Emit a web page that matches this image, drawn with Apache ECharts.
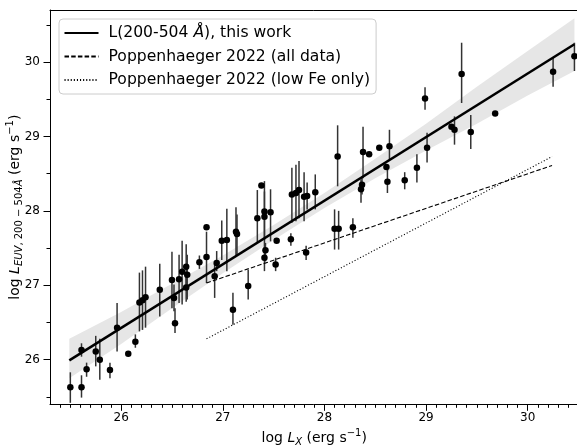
<!DOCTYPE html>
<html><head><meta charset="utf-8">
<script src="https://cdn.jsdelivr.net/npm/echarts@6/dist/echarts.min.js"></script>
<style>html,body{margin:0;padding:0;background:#fff}#c{width:577px;height:447px}</style>
</head><body><div id="c"></div>
<script>
// ---- data ----
const logLX = [25.50,25.61,25.61,25.66,25.75,25.79,25.89,25.96,26.07,26.14,26.18,26.21,26.24,26.38,26.50,26.52,26.53,26.57,26.60,26.64,26.65,26.64,26.77,26.84,26.84,26.94,26.92,26.99,27.04,27.13,27.14,27.10,27.25,27.34,27.38,27.41,27.41,27.47,27.42,27.41,27.52,27.53,27.67,27.68,27.72,27.75,27.80,27.83,27.91,27.82,28.10,28.14,28.13,28.28,28.36,28.37,28.38,28.44,28.54,28.64,28.61,28.62,28.79,28.91,28.99,29.01,29.25,29.28,29.35,29.44,29.68,30.25,30.46];
const logLEUV = [25.63,25.63,26.13,25.87,26.11,26.00,25.86,26.43,26.08,26.24,26.77,26.80,26.84,26.94,27.07,26.83,26.49,27.08,27.18,27.25,27.14,26.97,27.31,27.78,27.38,27.30,27.12,27.60,27.61,27.72,27.69,26.67,26.99,27.90,28.34,27.92,27.99,27.98,27.47,27.37,27.28,27.60,27.62,28.22,28.24,28.28,28.19,28.20,28.25,27.44,27.76,27.76,28.73,27.78,28.29,28.35,28.79,28.76,28.85,28.87,28.59,28.39,28.41,28.58,29.51,28.85,29.13,29.09,29.84,29.06,29.31,29.87,30.08];
const errLow = [25.42,25.49,26.04,25.77,25.91,25.73,25.75,26.11,null,26.16,26.38,26.40,26.43,26.58,26.69,26.65,26.36,26.76,26.74,26.94,26.81,26.78,27.22,null,27.03,27.19,26.83,27.34,27.19,27.39,27.40,26.47,26.81,27.57,null,27.48,27.61,27.59,27.32,27.19,27.19,null,27.53,27.84,27.86,27.90,27.86,28.02,28.02,27.34,27.48,27.48,28.33,27.64,28.11,28.22,28.44,null,null,28.69,null,28.24,28.29,28.38,29.36,28.65,null,28.89,29.45,28.83,null,29.67,29.88];
const errHigh = [25.83,25.79,26.22,25.96,26.32,26.28,25.96,26.76,null,26.34,27.17,27.20,27.25,27.29,27.45,27.01,26.69,27.41,27.60,27.55,27.41,27.12,27.40,null,27.72,27.46,27.30,27.87,28.03,28.05,27.95,26.90,27.21,28.28,null,28.26,28.40,28.29,27.57,27.51,27.37,null,27.70,28.58,28.62,28.67,28.52,28.38,28.49,27.53,28.02,28.00,29.15,27.90,28.42,28.46,29.13,null,null,29.09,null,28.55,28.52,28.76,29.66,29.05,null,29.27,30.26,29.29,null,30.06,30.26];

const fitX = [25.49, 30.46];
const fitY = [25.99, 30.24];
const bandX    = [25.49, 26.0, 26.5, 27.0, 27.5, 28.0, 28.5, 29.0, 29.5, 30.0, 30.46];
const bandLow  = [25.75, 26.21, 26.69, 27.16, 27.61, 28.04, 28.44, 28.81, 29.17, 29.55, 29.88];
const bandHigh = [26.28, 26.64, 27.02, 27.40, 27.81, 28.24, 28.70, 29.17, 29.67, 30.15, 30.59];

const popAllX = [26.84, 30.24];
const popAllY = [27.03, 28.61];
const popLowFeX = [26.84, 30.24];
const popLowFeY = [26.28, 28.73];

const xTicks = [26, 27, 28, 29, 30];
const yTicks = [26, 27, 28, 29, 30];
const xMinor = []; for (let i = 254; i <= 305; i++) { if (i % 10) xMinor.push(i / 10); }
const yMinor = [25.5, 26.5, 27.5, 28.5, 29.5, 30.5];

const legendNames = ['L(200-504 Å), this work', 'Poppenhaeger 2022 (all data)', 'Poppenhaeger 2022 (low Fe only)'];

// ---- chart ----
const FF = 'DejaVu Sans';
const X0 = 25.3, X1 = 30.5, Y0 = 25.4, Y1 = 30.7;
const chart = echarts.init(document.getElementById('c'), null, {renderer: 'canvas'});

const pts = logLX.map((x, i) => [x, logLEUV[i]]);
const errs = [];
logLX.forEach((x, i) => { if (errLow[i] != null) errs.push([x, errLow[i], errHigh[i]]); });

const baseAxis = (extra) => Object.assign({
  type: 'value', splitLine: {show: false}, axisLine: {show: false, onZero: false},
  axisTick: {show: false}, axisLabel: {show: false}
}, extra);

const axTitleRich = {
  n: {fontSize: 14, fontFamily: FF, color: '#000'},
  i: {fontSize: 14, fontFamily: FF, color: '#000', fontStyle: 'italic'},
  sbi: {fontSize: 10, fontFamily: FF, color: '#000', fontStyle: 'italic', padding: [8, 0, 0, 0]},
  sb: {fontSize: 10, fontFamily: FF, color: '#000', padding: [8, 0, 0, 0]},
  sp: {fontSize: 10, fontFamily: FF, color: '#000', padding: [0, 0, 10, 0]}
};

const option = {
  animation: false,
  backgroundColor: '#fff',
  grid: {left: 50, top: 10, width: 528.5, height: 394.3, containLabel: false, outerBoundsMode: 'none'},
  legend: {
    data: legendNames, orient: 'vertical', left: 59, top: 19,
    itemWidth: 34, itemHeight: 16, itemGap: 7.5,
    padding: [6, 6, 6, 4.5],
    backgroundColor: 'rgba(255,255,255,0.8)', borderColor: '#cccccc', borderWidth: 1, borderRadius: 4,
    selectedMode: false,
    itemStyle: {color: 'rgba(0,0,0,0)', borderWidth: 0, opacity: 0},
    textStyle: {fontSize: 15.6, fontFamily: FF, color: '#000', padding: [0, 0, 0, 5],
      rich: {
        n: {fontSize: 15.6, fontFamily: FF, color: '#000'},
        i: {fontSize: 15.6, fontFamily: FF, color: '#000', fontStyle: 'italic'}
      }},
    formatter: function (name) {
      if (name === legendNames[0]) return '{n|L(200-504 }{i|Å}{n|), this work}';
      return '{n|' + name + '}';
    }
  },
  xAxis: [
    baseAxis({min: X0, max: X1, position: 'bottom',
      axisLine: {show: true, onZero: false, lineStyle: {color: '#000', width: 1}},
      axisTick: {show: true, length: 6.5, customValues: xTicks, lineStyle: {color: '#000', width: 1}},
      axisLabel: {show: true, customValues: xTicks, margin: 8, fontSize: 12, fontFamily: FF, color: '#000'},
      name: '{n|log }{i|L}{sbi|X}{n| (erg s}{sp|−1}{n|)}', nameLocation: 'middle', nameGap: 24,
      nameMoveOverlap: false,
      nameTextStyle: {fontSize: 14, fontFamily: FF, color: '#000', rich: axTitleRich}
    }),
    baseAxis({min: X0, max: X1, position: 'bottom',
      axisTick: {show: true, length: 3.5, customValues: xMinor, lineStyle: {color: '#000', width: 1}}}),
    baseAxis({min: X0, max: X1, position: 'top',
      axisLine: {show: true, onZero: false, lineStyle: {color: '#000', width: 1}}})
  ],
  yAxis: [
    baseAxis({min: Y0, max: Y1, position: 'left',
      axisLine: {show: true, onZero: false, lineStyle: {color: '#000', width: 1}},
      axisTick: {show: true, length: 6.5, customValues: yTicks, lineStyle: {color: '#000', width: 1}},
      axisLabel: {show: true, customValues: yTicks, margin: 10, fontSize: 12, fontFamily: FF, color: '#000'},
      name: '{n|log }{i|L}{sbi|EUV}{sb|, 200 − 504}{sbi|Å}{n| (erg s}{sp|−1}{n|)}',
      nameLocation: 'middle', nameGap: 25, nameRotate: 90, nameMoveOverlap: false,
      nameTextStyle: {fontSize: 14, fontFamily: FF, color: '#000', rich: axTitleRich}
    }),
    baseAxis({min: Y0, max: Y1, position: 'left',
      axisTick: {show: true, length: 3.5, customValues: yMinor, lineStyle: {color: '#000', width: 1}}}),
    baseAxis({min: Y0, max: Y1, position: 'right',
      axisLine: {show: true, onZero: false, lineStyle: {color: '#000', width: 1}}})
  ],
  series: [
    {
      type: 'custom', name: 'band', xAxisIndex: 0, yAxisIndex: 0, z: 1, silent: true,
      data: [[bandX[0], bandLow[0]]],
      renderItem: function (params, api) {
        const poly = [];
        for (let i = 0; i < bandX.length; i++) poly.push(api.coord([bandX[i], bandHigh[i]]));
        for (let i = bandX.length - 1; i >= 0; i--) poly.push(api.coord([bandX[i], bandLow[i]]));
        return {type: 'polygon', shape: {points: poly}, style: {fill: '#e6e6e6', stroke: null}};
      }
    },
    {
      type: 'custom', name: 'err', xAxisIndex: 0, yAxisIndex: 0, z: 3, silent: true,
      data: errs, encode: {x: 0, y: [1, 2]},
      renderItem: function (params, api) {
        const a = api.coord([api.value(0), api.value(1)]);
        const b = api.coord([api.value(0), api.value(2)]);
        return {type: 'line', shape: {x1: a[0], y1: a[1], x2: b[0], y2: b[1]},
          style: {stroke: '#333333', lineWidth: 1.5}};
      }
    },
    {
      type: 'scatter', name: 'points', xAxisIndex: 0, yAxisIndex: 0, z: 4,
      data: pts, symbol: 'circle', symbolSize: 6.5, itemStyle: {color: '#000', opacity: 1}
    },
    {
      type: 'line', name: legendNames[0], xAxisIndex: 0, yAxisIndex: 0, z: 5,
      data: fitX.map((x, i) => [x, fitY[i]]), symbol: 'none',
      lineStyle: {color: '#000', width: 2.5}, itemStyle: {color: 'rgba(0,0,0,0)'}
    },
    {
      type: 'line', name: legendNames[1], xAxisIndex: 0, yAxisIndex: 0, z: 5,
      data: popAllX.map((x, i) => [x, popAllY[i]]), symbol: 'none',
      lineStyle: {color: '#000', width: 1.1, type: [4.5, 2.2]}, itemStyle: {color: 'rgba(0,0,0,0)'}
    },
    {
      type: 'line', name: legendNames[2], xAxisIndex: 0, yAxisIndex: 0, z: 5,
      data: popLowFeX.map((x, i) => [x, popLowFeY[i]]), symbol: 'none',
      lineStyle: {color: '#000', width: 1.1, type: [1.1, 2]}, itemStyle: {color: 'rgba(0,0,0,0)'}
    }
  ]
};
chart.setOption(option);
</script>
</body></html>
